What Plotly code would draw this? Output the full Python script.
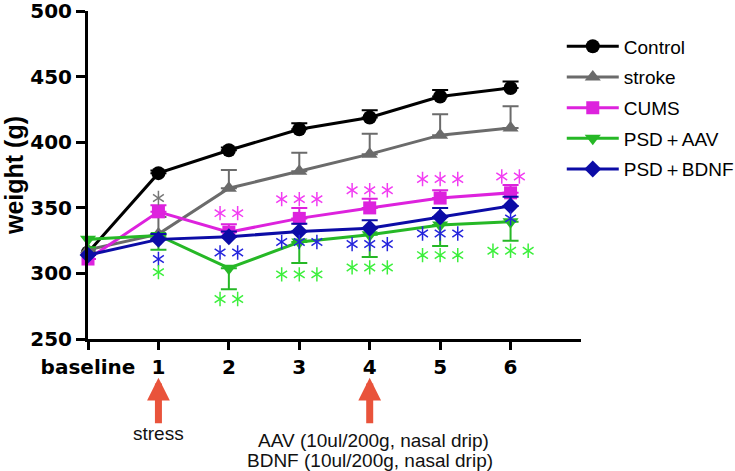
import plotly.graph_objects as go

# ---- data ----
timepoints = ["baseline", "1", "2", "3", "4", "5", "6"]

control = [316, 376.5, 394, 410, 419, 435, 441.5]
control_err = [0, 2, 2, 4.5, 5.5, 5, 5]

stroke = [318, 330, 365, 378, 391, 405.5, 411]
stroke_err = [0, 13, 14, 14, 15.5, 16, 16.5]

cums = [311, 347, 331.5, 342, 350, 357.5, 361.5]
cums_err = [0, 5, 6, 8, 7, 6, 6]

aav = [326, 329, 304, 324, 329.5, 337, 339.5]
aav_err = [6, 11, 16, 16, 17, 16, 14.5]          # drawn downward

bdnf = [314, 326, 328, 332, 334.5, 343, 351.5]
bdnf_err = [0, 4, 4, 6, 6, 7, 7]

# significance asterisks: timepoint index, y value, count, group
sig_tick = [1, 1, 1, 2, 2, 2, 3, 3, 3, 4, 4, 4, 5, 5, 5, 6, 6, 6]
sig_y = [357.5, 311, 301, 346, 316, 280.5, 356.7, 324, 299.3,
         363.5, 322.4, 304.6, 372, 330.5, 314, 374, 342, 317.3]
sig_n = [1, 1, 1, 2, 2, 2, 3, 3, 3, 3, 3, 3, 3, 3, 3, 2, 1, 3]
sig_group = ["stroke", "bdnf", "aav", "cums", "bdnf", "aav", "cums", "bdnf", "aav",
             "cums", "bdnf", "aav", "cums", "bdnf", "aav", "cums", "bdnf", "aav"]

y_ticks = [250, 300, 350, 400, 450, 500]

# ---- styles ----
line_colors = {"control": "#000000", "stroke": "#6b6b6b", "cums": "#dd22dd",
               "aav": "#26b826", "bdnf": "#0c0ca6"}
star_colors = {"stroke": "#777777", "cums": "#f23cf2", "aav": "#3cef3c", "bdnf": "#2424dc"}

x = list(range(len(timepoints)))
fig = go.Figure()

series = [
    ("Control", control, control_err, "control", "circle", 14, True),
    ("stroke", stroke, stroke_err, "stroke", "triangle-up", 14, True),
    ("CUMS", cums, cums_err, "cums", "square", 13, True),
    ("PSD＋AAV", aav, aav_err, "aav", "triangle-down", 14, False),
    ("PSD＋BDNF", bdnf, bdnf_err, "bdnf", "diamond", 13, True),
]
for name, ys, err, key, sym, size, up in series:
    c = line_colors[key]
    zeros = [0] * len(err)
    fig.add_trace(go.Scatter(
        x=x, y=ys, name=name, mode="lines+markers",
        line=dict(color=c, width=3),
        marker=dict(symbol=sym, size=size, color=c),
        error_y=dict(type="data", symmetric=False,
                     array=err if up else zeros,
                     arrayminus=zeros if up else err,
                     color=c, thickness=2, width=8),
        cliponaxis=False, legendgroup=name,
    ))

# asterisks (six-armed: y-up + y-down overlaid)
step = 0.25
sx, sy, ssym, scol = [], [], [], []
for t, yv, n, g in zip(sig_tick, sig_y, sig_n, sig_group):
    for i in range(n):
        xv = t + (i - (n - 1) / 2) * step
        for s in ("y-up-open", "y-down-open"):
            sx.append(xv)
            sy.append(yv)
            ssym.append(s)
            scol.append(star_colors[g])
fig.add_trace(go.Scatter(
    x=sx, y=sy, mode="markers", showlegend=False, hoverinfo="skip",
    marker=dict(symbol=ssym, size=9, color=scol, line=dict(width=1.5, color=scol)),
    cliponaxis=False,
))

# arrows and notes under the axis
arrow_color = "#e9533b"
for xt in (1, 4):
    fig.add_annotation(x=xt, y=-0.118, xref="x", yref="paper", text="",
                       showarrow=True, ax=0, ay=47, arrowhead=2, arrowsize=0.65,
                       arrowwidth=7, arrowcolor=arrow_color)
note_font = dict(family="Liberation Sans, Arial", size=19, color="#111111")
fig.add_annotation(x=1, y=-0.287, xref="x", yref="paper", text="stress",
                   showarrow=False, font=note_font, xanchor="center", yanchor="middle")
fig.add_annotation(x=4.05, y=-0.308, xref="x", yref="paper",
                   text="AAV (10ul/200g, nasal drip)", showarrow=False, font=note_font,
                   xanchor="center", yanchor="middle")
fig.add_annotation(x=4.0, y=-0.369, xref="x", yref="paper",
                   text="BDNF (10ul/200g, nasal drip)", showarrow=False, font=note_font,
                   xanchor="center", yanchor="middle")

tick_font = dict(family="DejaVu Sans", size=20, color="#000000", weight="bold")
fig.update_layout(
    width=735, height=471,
    margin=dict(l=88, r=154, t=11, b=132, autoexpand=False),
    paper_bgcolor="white", plot_bgcolor="white",
    showlegend=True,
    legend=dict(x=0.961, y=0.95, xanchor="left", yanchor="top", itemwidth=52,
                font=dict(family="Liberation Sans, Arial", size=19, color="#000000"),
                tracegroupgap=3, bgcolor="rgba(0,0,0,0)"),
    xaxis=dict(range=[0, 7], tickvals=x, ticktext=timepoints, automargin=False,
               showgrid=False, zeroline=False, showline=True, linecolor="black",
               linewidth=3, ticks="outside", ticklen=8, tickwidth=3, tickcolor="black",
               tickfont=tick_font, ticklabeloverflow="allow"),
    yaxis=dict(range=[250, 500.2], tickvals=y_ticks, automargin=False,
               showgrid=False, zeroline=False, showline=True, linecolor="black",
               linewidth=3, ticks="outside", ticklen=9, tickwidth=3, tickcolor="black",
               tickfont=tick_font, ticklabeloverflow="allow",
               title=dict(text="<b>weight (g)</b>", standoff=4,
                          font=dict(family="Liberation Sans, Arial", size=25, color="black"))),
)

fig.write_html("out.html", config={"displayModeBar": False},
               post_script="document.body.style.margin='0';")
